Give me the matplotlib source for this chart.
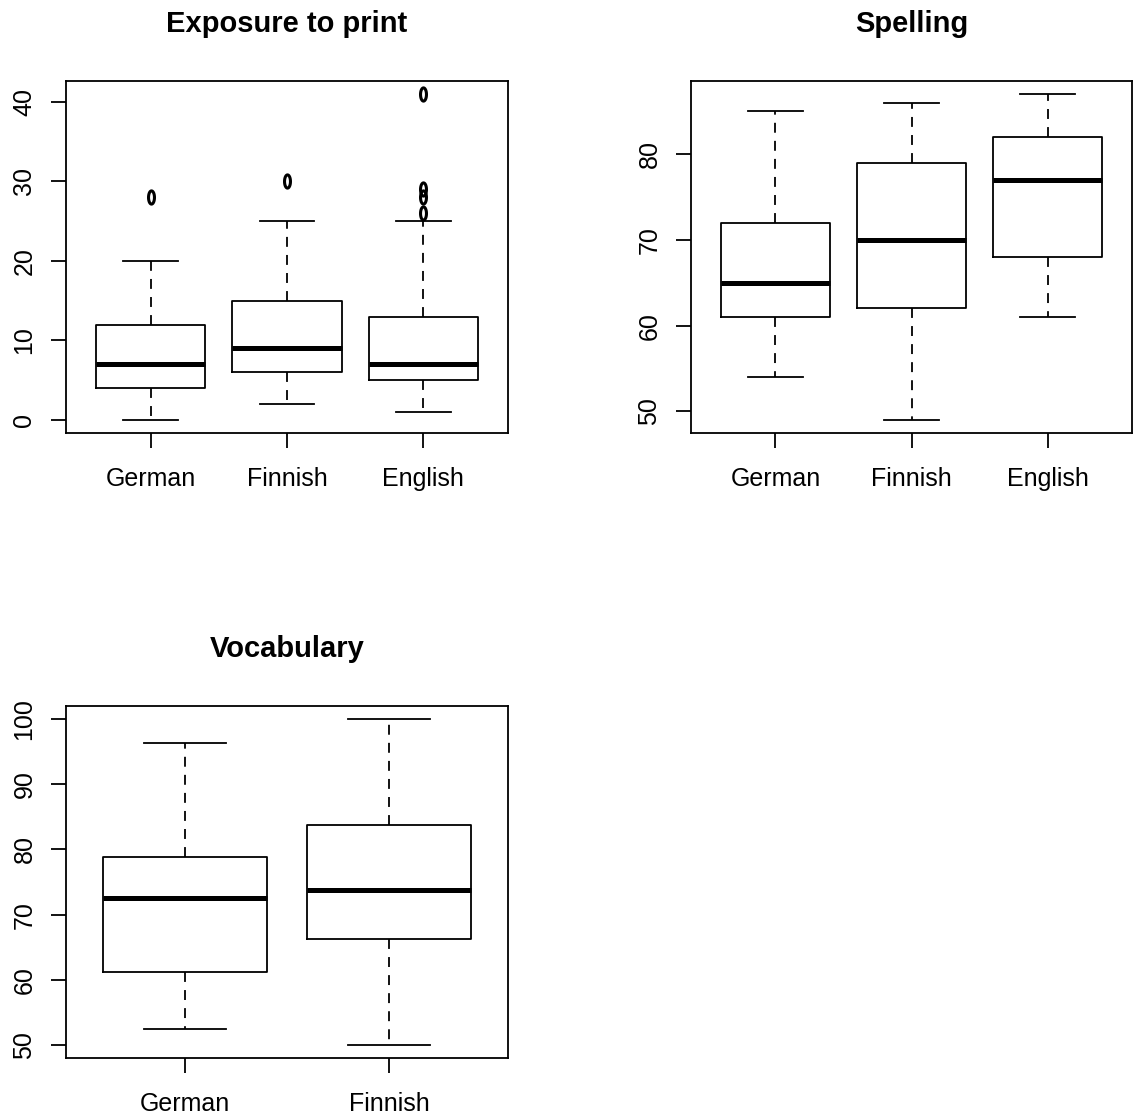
import numpy as np
import matplotlib
matplotlib.use("Agg")
import matplotlib.pyplot as plt
from matplotlib.path import Path

plt.rcParams['font.family'] = ['Liberation Sans', 'DejaVu Sans']

# five-number summaries: lower whisker, Q1, median, Q3, upper whisker
langs3 = ["German", "Finnish", "English"]
langs2 = ["German", "Finnish"]

exposure_stats = [[0, 4, 7, 12, 20], [2, 6, 9, 15, 25], [1, 5, 7, 13, 25]]
exposure_out = [[28], [30], [41, 29, 28, 26]]

spelling_stats = [[54, 61, 65, 72, 85], [49, 62, 70, 79, 86], [61, 68, 77, 82, 87]]
spelling_out = [[], [], []]

vocab_stats = [[52.5, 61.2, 72.5, 78.8, 96.3], [50, 66.3, 73.8, 83.8, 100]]
vocab_out = [[], []]

# narrow open circle, like R's squashed pch=1
t = np.linspace(0, 2 * np.pi, 60)
oval = Path(np.column_stack([0.45 * np.cos(t), np.sin(t)]), closed=True)


def r_box(ax, stats, outs, labels, title, yticks):
    n = len(stats)
    bxp = []
    for s, o, lab in zip(stats, outs, labels):
        bxp.append(dict(whislo=s[0], q1=s[1], med=s[2], q3=s[3], whishi=s[4],
                        fliers=o, label=lab))
    ax.bxp(bxp, positions=range(1, n + 1), widths=0.8, patch_artist=False,
           boxprops=dict(color='black', lw=1.3),
           medianprops=dict(color='black', lw=3.6, solid_capstyle='butt'),
           whiskerprops=dict(color='black', lw=1.3, ls=(0, (5.5, 4.5))),
           capprops=dict(color='black', lw=1.3),
           capwidths=0.4,
           flierprops=dict(marker=oval, markersize=9.5, markerfacecolor='none',
                           markeredgecolor='black', markeredgewidth=2.2))
    # R style ranges: 4% padding
    lo = min(min(s[0] for s in stats), min([v for o in outs for v in o] or [np.inf]))
    hi = max(max(s[4] for s in stats), max([v for o in outs for v in o] or [-np.inf]))
    d = (hi - lo) * 0.04
    ax.set_ylim(lo - d, hi + d)
    dx = n * 0.04
    ax.set_xlim(0.5 - dx, n + 0.5 + dx)
    ax.set_xticks(range(1, n + 1))
    ax.set_xticklabels(labels)
    ax.set_yticks(yticks)
    ax.set_yticklabels([str(v) for v in yticks], rotation=90, va='center')
    ax.tick_params(axis='x', length=10.8, width=1.3, pad=14, labelsize=18)
    ax.tick_params(axis='y', length=10.8, width=1.3, pad=10.5, labelsize=18)
    for sp in ax.spines.values():
        sp.set_linewidth(1.3)
    ax.set_title(title, fontsize=21, fontweight='bold', pad=35)


fig = plt.figure(figsize=(11.34, 11.16), dpi=100)
ax1 = fig.add_axes([66 / 1134, 1 - 433 / 1116, 442 / 1134, 352 / 1116])
ax2 = fig.add_axes([691 / 1134, 1 - 433 / 1116, 441 / 1134, 352 / 1116])
ax3 = fig.add_axes([66 / 1134, 1 - 1058 / 1116, 442 / 1134, 352 / 1116])

r_box(ax1, exposure_stats, exposure_out, langs3, "Exposure to print", [0, 10, 20, 30, 40])
r_box(ax2, spelling_stats, spelling_out, langs3, "Spelling", [50, 60, 70, 80])
r_box(ax3, vocab_stats, vocab_out, langs2, "Vocabulary", [50, 60, 70, 80, 90, 100])

fig.savefig("out.png", dpi=100)
